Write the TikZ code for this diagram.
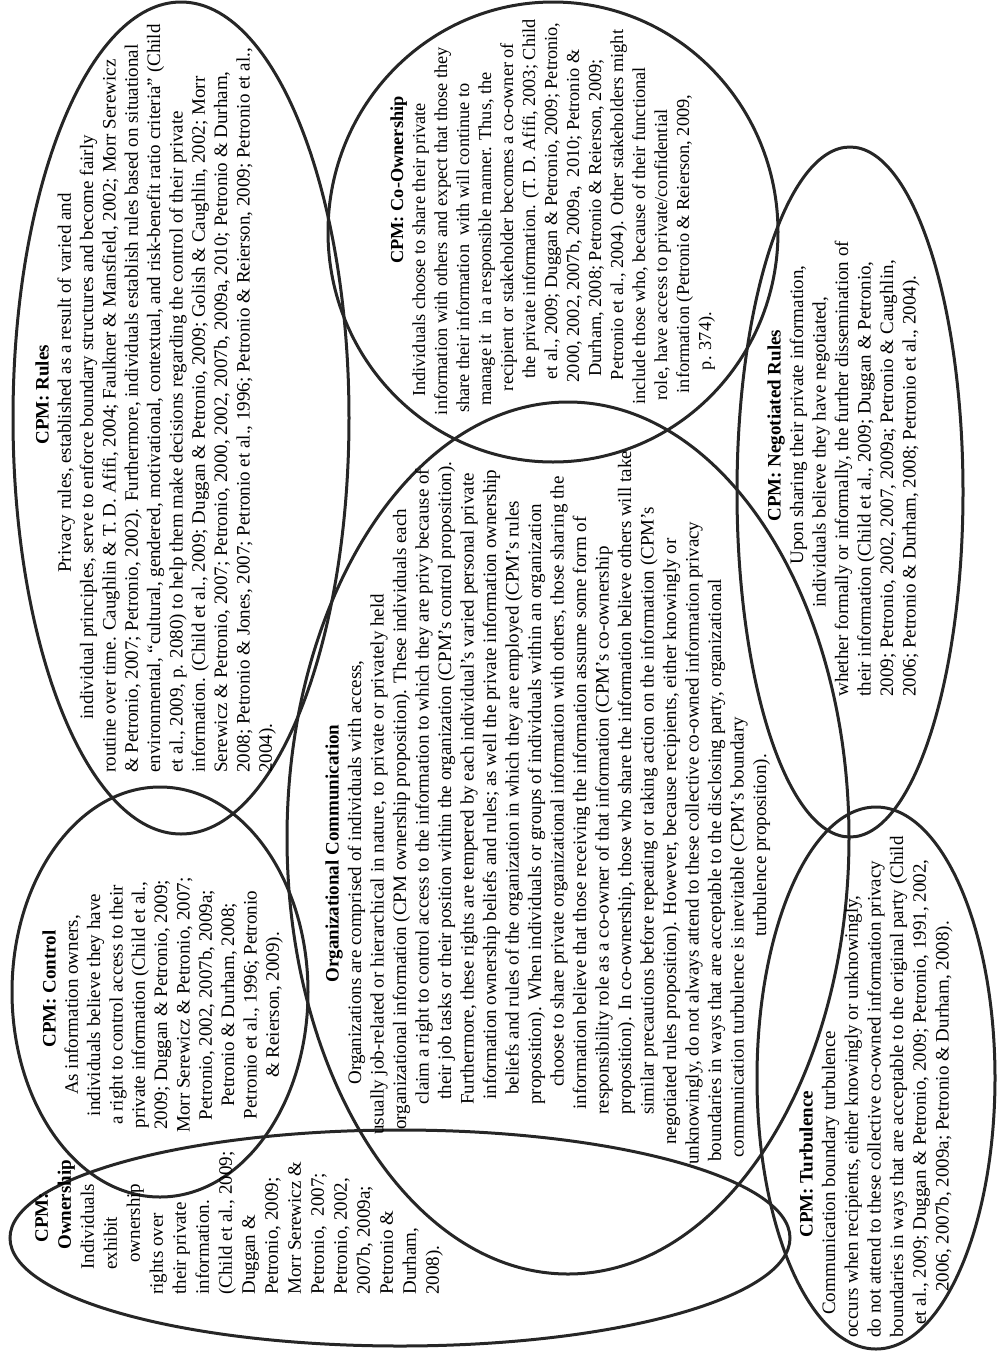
\documentclass[tikz,border=0pt]{standalone}
\usepackage{fontspec}
\setmainfont{Liberation Serif}
\usepackage{tikz}

% one picture unit = one pixel of the page
\newdimen\pxunit \pxunit=0.6pt
\newcommand{\ind}[1]{\hspace*{#1\pxunit}}

\tikzset{
  cpmring/.style={draw=black!85, line width=1.8pt},
  cpmtext/.style={font=\fontsize{11.4}{#1}\selectfont, align=left,
    rotate=90, anchor=north west, inner sep=0pt},
  cpmmid/.style={font=\fontsize{11.4}{#1}\selectfont, align=center,
    rotate=90, anchor=north, inner sep=0pt},
}

\begin{document}
\begin{tikzpicture}[x=0.6pt, y=0.6pt]

    \useasboundingbox (0,0) rectangle (997,-1352);

    % ==========================================
    % The seven rings (centre, x radius, y radius)
    % ==========================================
    \draw[cpmring] (181,-418)  ellipse [x radius=168, y radius=416]; % rules
    \draw[cpmring] (553,-232)  ellipse [x radius=225, y radius=230]; % co-ownership
    \draw[cpmring] (850,-492)  ellipse [x radius=113, y radius=345]; % negotiated rules
    \draw[cpmring] (568,-838)  ellipse [x radius=281, y radius=436]; % organization
    \draw[cpmring] (160,-992)  ellipse [x radius=148, y radius=205]; % control
    \draw[cpmring] (400,-1238) ellipse [x radius=390, y radius=108]; % ownership
    \draw[cpmring] (876,-1078) ellipse [x radius=119, y radius=271]; % turbulence

    % CPM: Rules
    \node[cpmtext=13.4pt] (rules) at (35,-773) {%
      \ind{328}\textbf{CPM: Rules}\\
      \ind{200}Privacy rules, established as a result of varied and\\
      \ind{53}individual principles, serve to enforce boundary structures and become fairly\\
      routine over time. Caughlin \& T. D. Afifi, 2004; Faulkner \& Mansfield, 2002; Morr Serewicz\\
      \& Petronio, 2007; Petronio, 2002). Furthermore, individuals establish rules based on situational\\
      environmental, “cultural, gendered, motivational, contextual, and risk-benefit ratio criteria” (Child\\
      et al., 2009, p. 2080) to help them make decisions regarding the control of their private\\
      information. (Child et al., 2009; Duggan \& Petronio, 2009; Golish \& Caughlin, 2002; Morr\\
      Serewicz \& Petronio, 2007; Petronio, 2000, 2002, 2007b, 2009a, 2010; Petronio \& Durham,\\
      2008; Petronio \& Jones, 2007; Petronio et al., 1996; Petronio \& Reierson, 2009; Petronio et al.,\\
      2004).};

    % CPM: Co-Ownership (lines centred, each moved by its own amount)
    \node[cpmmid=13.2pt, font=\fontsize{11}{13.2pt}\selectfont] (coown) at (390,-230) {%
      \ind{100}\textbf{CPM: Co-Ownership}\\
      \ind{-40}Individuals choose to share their private\\
      \ind{-2}information with others and expect that those they\\
      \ind{-36}share their information\ \ with will continue to\\
      \ind{-18}manage it\ \ in a responsible manner. Thus, the\\
      \ind{26}recipient or stakeholder becomes a co-owner of\\
      \ind{62}the private information. (T. D. Afifi, 2003; Child\\
      \ind{58}et al., 2009; Duggan \& Petronio, 2009; Petronio,\\
      \ind{28}2000, 2002, 2007b, 2009a,\ \ 2010; Petronio \&\\
      \ind{24}Durham, 2008; Petronio \& Reierson, 2009;\\
      \ind{50}Petronio et al., 2004). Other stakeholders might\\
      \ind{-12}include those who, because of their functional\\
      \ind{-50}role, have access to private/confidential\\
      \ind{-28}information (Petronio \& Reierson, 2009,\\
      \ind{-222}p. 374).};

    % CPM: Negotiated Rules
    \node[cpmtext=13.5pt] (negot) at (767,-697) {%
      \ind{175}\textbf{CPM: Negotiated Rules}\\
      \ind{132}Upon sharing their private information,\\
      \ind{89}individuals believe they have negotiated,\\
      whether formally or informally, the further dissemination of\\
      their information (Child et al., 2009; Duggan \& Petronio,\\
      2009; Petronio, 2002, 2007, 2009a; Petronio \& Caughlin,\\
      2006; Petronio \& Durham, 2008; Petronio et al., 2004).};

    % Organizational Communication
    \node[cpmtext=13.5pt] (orgcomm) at (325,-1165) {%
      \ind{182}\textbf{Organizational Communication}\\
      \ind{80}Organizations are comprised of individuals with access,\\
      \ind{30}usually job-related or hierarchical in nature, to private or privately held\\
      \ind{35}organizational information (CPM ownership proposition). These individuals each\\
      \ind{60}claim a right to control access to the information to which they are privy because of\\
      \ind{65}their job tasks or their position within the organization (CPM’s control proposition).\\
      \ind{60}Furthermore, these rights are tempered by each individual’s varied personal private\\
      \ind{65}information ownership beliefs and rules; as well the private information ownership\\
      \ind{70}beliefs and rules of the organization in which they are employed (CPM’s rules\\
      \ind{60}proposition). When individuals or groups of individuals within an organization\\
      \ind{78}choose to share private organizational information with others, those sharing the\\
      \ind{55}information believe that those receiving the information assume some form of\\
      \ind{50}responsibility role as a co-owner of that information (CPM’s co-ownership\\
      \ind{50}proposition). In co-ownership, those who share the information believe others will take\\
      \ind{50}similar precautions before repeating or taking action on the information (CPM’s\\
      \ind{20}negotiated rules proposition). However, because recipients, either knowingly or\\
      unknowingly, do not always attend to these collective co-owned information privacy\\
      \ind{3}boundaries in ways that are acceptable to the disclosing party, organizational\\
      \ind{7}communication turbulence is inevitable (CPM’s boundary\\
      \ind{228}turbulence proposition).};

    % CPM: Control
    \node[cpmmid=13.4pt] (control) at (42,-1005) {%
      \ind{32}\textbf{CPM: Control}\\
      As information owners,\\
      individuals believe they have\\
      a right to control access to their\\
      private information (Child et al.,\\
      2009; Duggan \& Petronio, 2009;\\
      Morr Serewicz \& Petronio, 2007;\\
      Petronio, 2002, 2007b, 2009a;\\
      Petronio \& Durham, 2008;\\
      Petronio et al., 1996; Petronio\\
      \& Reierson, 2009).};

    % CPM: Ownership
    \node[cpmtext=13.8pt] (owner) at (35,-1295) {%
      \ind{52}\textbf{CPM:}\\
      \ind{45}\textbf{Ownership}\\
      \ind{25}Individuals\\
      \ind{25}exhibit\\
      \ind{32}ownership\\
      rights over\\
      their private\\
      information.\\
      (Child et al., 2009;\\
      Duggan \&\\
      Petronio, 2009;\\
      Morr Serewicz \&\\
      Petronio,\ \ 2007;\\
      Petronio, 2002,\\
      2007b, 2009a;\\
      Petronio \&\\
      Durham,\\
      2008).};

    % CPM: Turbulence
    \node[cpmtext=13.6pt] (turb) at (799,-1338) {%
      \ind{100}\textbf{CPM: Turbulence}\\
      \ind{23}Communication boundary turbulence\\
      occurs when recipients, either knowingly or unknowingly,\\
      do not attend to these collective co-owned information privacy\\
      boundaries in ways that are acceptable to the original party (Child\\
      \ind{13}et al., 2009; Duggan \& Petronio, 2009; Petronio, 1991, 2002,\\
      \ind{46}2006, 2007b, 2009a; Petronio \& Durham, 2008).};

\end{tikzpicture}
\end{document}
